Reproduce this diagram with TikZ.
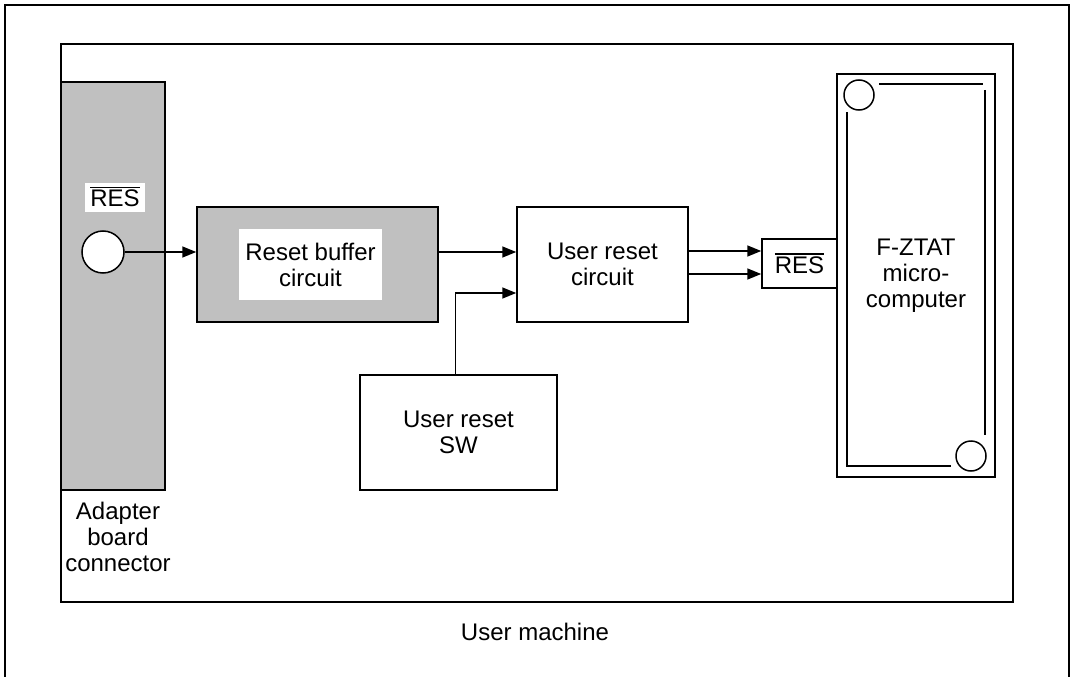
\documentclass[tikz,border=0pt]{standalone}
\usepackage{fontspec}
\setmainfont{Liberation Sans}
\usetikzlibrary{arrows.meta,positioning,calc}
\definecolor{boardgray}{HTML}{C0C0C0}
\newcommand{\barred}[1]{\leavevmode\vbox{\hrule height 1.2pt\kern2pt\hbox{#1}}}

\begin{document}
\begin{tikzpicture}[
    x=1pt, y=-1pt, line width=1.5pt, font=\fontsize{24}{26}\selectfont,
    box/.style={draw, align=center, inner sep=0pt},
    grey/.style={box, fill=boardgray},
    tag/.style={align=center, inner sep=0pt},
    pad/.style={tag, fill=white},
    link/.style={-{Triangle[length=14pt,width=11pt]}},
  ]
  \useasboundingbox (0,0) rectangle (1074,677);
  \draw (5,677) -- (5,5) -- (1069,5) -- (1069,677);
  \draw (61,44) rectangle (1013,602);

  \node[grey, minimum width=104pt, minimum height=408pt] (board) at (113,286) {};
  \node[pad, minimum width=60pt, minimum height=29pt] (restag) at (115,197) {\barred{RES}};
  \node[circle, draw, fill=white, minimum size=42pt, inner sep=0pt] (pin) at (103,252) {};
  \node[tag] (adapter) at (118,537) {Adapter\\ board\\ connector};

  \node[grey, minimum width=241pt, minimum height=115pt] (buf) at (317.5,264.5) {};
  \node[pad, minimum width=143pt, minimum height=71pt] (buftext) at (310.5,264.5) {Reset buffer\\ circuit};
  \node[box, minimum width=171pt, minimum height=115pt] (urc) at (602.5,264.5) {User reset\\ circuit};
  \node[box, minimum width=197pt, minimum height=115pt] (sw) at (458.5,432.5) {User reset\\ SW};
  \node[box, minimum width=75pt, minimum height=49pt] (res) at (799.5,263.5) {\barred{RES}};
  \node[box, minimum width=158pt, minimum height=403pt] (mcu) at (916,275.5) {F-ZTAT\\ micro-\\ computer};

  % socket marks inside the package
  \node[circle, draw, minimum size=30pt, inner sep=0pt] (dot1) at (859,95) {};
  \node[circle, draw, minimum size=30pt, inner sep=0pt] (dot2) at (971,456) {};
  \draw[line width=1.2pt] (879,84) -- (983,84);
  \draw[line width=1.2pt] (985,90) -- (985,435);
  \draw[line width=1.2pt] (847,112) -- (847,466) -- (951,466);

  \node[tag] (machine) at (535,632) {User machine};

  \draw[link] (pin.east) -- (pin.east -| buf.west);
  \draw[link] (pin.east -| buf.east) -- (pin.east -| urc.west);
  \draw[link] ([xshift=-3pt]sw.north) |- ([yshift=-28.5pt]urc.west);
  \draw[link] ([yshift=13.5pt]urc.east) -- ([yshift=13.5pt]urc.east -| res.west);
  \draw[link] ([yshift=-9.5pt]urc.east) -- ([yshift=-9.5pt]urc.east -| res.west);
\end{tikzpicture}
\end{document}
